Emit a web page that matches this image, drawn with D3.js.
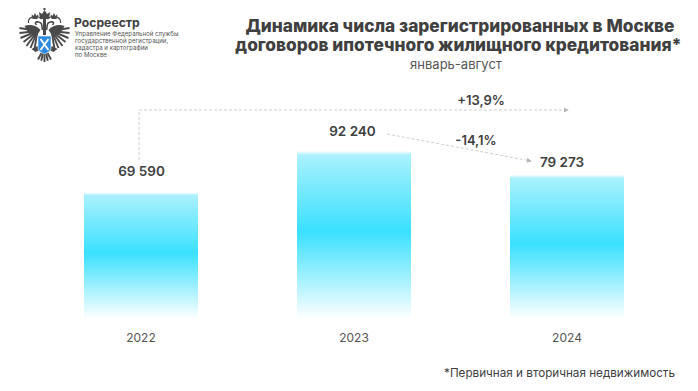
<!DOCTYPE html>
<html>
<head>
<meta charset="utf-8">
<script src="https://cdn.jsdelivr.net/npm/d3@7"></script>
<style>
  html, body { margin: 0; padding: 0; background: #fff; }
  text { font-family: Inter, "Noto Sans", sans-serif; }
</style>
</head>
<body>
<div id="chart"></div>
<script>
// Chart data
const years = ["2022", "2023", "2024"];
const values = [69590, 92240, 79273];
const valueLabels = ["69 590", "92 240", "79 273"];
const titleLines = ["Динамика числа зарегистрированных в Москве", "договоров ипотечного жилищного кредитования*"];
const orgLines = ["Управление Федеральной службы", "государственной регистрации,", "кадастра и картографии", "по Москве"];

const width = 698;
const height = 391;
const textColor = "#404040";
const dashColor = "#cfcfcf";

const svg = d3.select("#chart")
    .append("svg")
    .attr("viewBox", [0, 0, width, height])
    .attr("width", width)
    .attr("height", height)
    .style("display", "block");

const defs = svg.append("defs");

// Bars fade to white at both ends
const gradient = defs.append("linearGradient")
    .attr("id", "barGradient")
    .attr("x1", "0%").attr("x2", "0%")
    .attr("y1", "0%").attr("y2", "100%");
gradient.selectAll("stop")
    .data([
        {o: "0%", c: "#ffffff"},
        {o: "2.5%", c: "#aaf1fd"},
        {o: "48%", c: "#3ae0ff"},
        {o: "100%", c: "#ffffff"}
    ])
    .join("stop")
    .attr("offset", d => d.o)
    .attr("stop-color", d => d.c);

const arrow = defs.append("marker")
    .attr("id", "arrow")
    .attr("viewBox", "0 0 6 6")
    .attr("refX", 5).attr("refY", 3)
    .attr("markerWidth", 5).attr("markerHeight", 5)
    .attr("markerUnits", "userSpaceOnUse")
    .attr("orient", "auto");
arrow.append("path").attr("d", "M0,0L6,3L0,6Z").attr("fill", "#b5b5b5");

defs.append("filter")
    .attr("id", "soft")
    .append("feGaussianBlur")
    .attr("stdDeviation", 0.35);

// Scales
const x = d3.scaleBand(years, [84, 624]).paddingInner(0.4648).paddingOuter(0);
const y = d3.scaleLinear([0, 92240], [319, 151]);

// Bars
svg.append("g")
    .selectAll("rect")
    .data(values)
    .join("rect")
    .attr("x", (d, i) => x(years[i]))
    .attr("y", d => y(d))
    .attr("width", x.bandwidth())
    .attr("height", d => y(0) - y(d))
    .attr("fill", "url(#barGradient)");

// Year axis, without domain and ticks
svg.append("g")
    .attr("transform", "translate(0,333)")
    .call(d3.axisBottom(x).tickSize(0).tickPadding(0))
    .call(g => g.select(".domain").remove())
    .call(g => g.selectAll("text")
        .attr("font-family", "Inter")
        .attr("font-size", 12)
        .attr("fill", "#555"));

// Value labels
const labelShiftX = [0.5, -1.5, -5];
const labelShiftY = [-16, -15, -8];
svg.append("g")
    .selectAll("text")
    .data(values)
    .join("text")
    .attr("x", (d, i) => x(years[i]) + x.bandwidth() / 2 + labelShiftX[i])
    .attr("y", (d, i) => y(d) + labelShiftY[i])
    .attr("text-anchor", "middle")
    .attr("font-size", 13.5)
    .attr("font-weight", 600)
    .attr("fill", textColor)
    .text((d, i) => valueLabels[i]);

// Change arrows
const dashed = g => g.attr("fill", "none")
    .attr("stroke", dashColor)
    .attr("stroke-width", 1)
    .attr("stroke-dasharray", "3 2");
svg.append("path")
    .attr("d", "M139,160V110H568")
    .call(dashed)
    .attr("marker-end", "url(#arrow)");
svg.append("path")
    .attr("d", "M387,134L531,161")
    .call(dashed)
    .attr("marker-end", "url(#arrow)");

svg.selectAll(".change")
    .data([{t: "+13,9%", x: 481, y: 105}, {t: "-14,1%", x: 476, y: 145}])
    .join("text")
    .attr("class", "change")
    .attr("x", d => d.x)
    .attr("y", d => d.y)
    .attr("text-anchor", "middle")
    .attr("font-size", 13)
    .attr("font-weight", 600)
    .attr("fill", textColor)
    .text(d => d.t);

// Title block
svg.append("g")
    .selectAll("text")
    .data(titleLines)
    .join("text")
    .attr("x", (d, i) => [460, 458.5][i])
    .attr("y", (d, i) => 32 + i * 18.5)
    .attr("text-anchor", "middle")
    .attr("font-size", 17.3)
    .attr("font-weight", 800)
    .attr("fill", textColor)
    .text(d => d);

svg.append("text")
    .attr("x", 456)
    .attr("y", 69)
    .attr("text-anchor", "middle")
    .attr("font-size", 13)
    .attr("fill", "#555")
    .text("январь-август");

svg.append("text")
    .attr("x", 675)
    .attr("y", 377)
    .attr("text-anchor", "end")
    .attr("font-size", 11.7)
    .attr("fill", textColor)
    .text("*Первичная и вторичная недвижимость");

// Organisation name
svg.append("text")
    .attr("x", 74)
    .attr("y", 27)
    .attr("font-size", 12.2)
    .attr("font-weight", 700)
    .attr("fill", textColor)
    .text("Росреестр");
svg.append("g")
    .selectAll("text")
    .data(orgLines)
    .join("text")
    .attr("x", 75)
    .attr("y", (d, i) => 36 + i * 7)
    .attr("font-size", 6.1)
    .attr("fill", "#555")
    .text(d => d);

// Emblem, a simplified double-headed eagle
const emblemColor = "#4a4a4a";
const emblem = svg.append("g")
    .attr("transform", "translate(44.5,38)")
    .attr("filter", "url(#soft)");
const featherTips = [[25, -10], [25, -5], [24, 0], [21, 4], [18, 8], [14, 10], [10, 11]];

[-1, 1].forEach(side => {
    const wing = emblem.append("g").attr("transform", `scale(${side},1)`);
    // feathers
    wing.selectAll("line")
        .data(featherTips)
        .join("line")
        .attr("x1", 7).attr("y1", -7)
        .attr("x2", d => d[0]).attr("y2", d => d[1])
        .attr("stroke", emblemColor)
        .attr("stroke-width", 1.9);
    // shoulder
    wing.append("path")
        .attr("d", "M4,-8C8,-13 15,-14 20,-12L16,-5L8,-2Z")
        .attr("fill", emblemColor);
    // neck and head curl
    wing.append("path")
        .attr("d", "M2,-8C3,-13 2,-15 6,-16C9,-16.5 10,-15 8,-13")
        .attr("fill", "none")
        .attr("stroke", emblemColor)
        .attr("stroke-width", 1.6);
    wing.append("path")
        .attr("d", "M3,-19C8,-24 17,-21 16,-15")
        .attr("fill", "none")
        .attr("stroke", emblemColor)
        .attr("stroke-width", 1.2);
    // small crown
    wing.append("path")
        .attr("d", "M6,-24L7,-19H12L13,-24L11,-22L9.5,-25L8,-22Z")
        .attr("fill", emblemColor);
    // legs
    wing.append("path")
        .attr("d", "M7,8L13,11L9,14L5,12Z")
        .attr("fill", emblemColor);
});

// big crown
emblem.append("path")
    .attr("d", "M-4.5,-19L-5.5,-26L-2.5,-24L0,-28L2.5,-24L5.5,-26L4.5,-19Z")
    .attr("fill", emblemColor);
emblem.append("path")
    .attr("d", "M-1,-30H1V-28H-1Z")
    .attr("fill", emblemColor);
emblem.append("path")
    .attr("d", "M-1.5,-19H1.5V-3H-1.5Z")
    .attr("fill", emblemColor);

// tail
emblem.selectAll(".tail")
    .data([-5, -2.5, 0, 2.5, 5])
    .join("line")
    .attr("class", "tail")
    .attr("x1", d => d * 0.6).attr("y1", 15)
    .attr("x2", d => d * 1.3).attr("y2", d => 24 - Math.abs(d) * 0.5)
    .attr("stroke", emblemColor)
    .attr("stroke-width", 1.9);

// shield
emblem.append("path")
    .attr("d", "M-6.5,-2H6.5V10C6.5,13 3,15 0,16C-3,15 -6.5,13 -6.5,10Z")
    .attr("fill", "#2e8be0")
    .attr("stroke", "#fff")
    .attr("stroke-width", 0.6);
emblem.append("path")
    .attr("d", "M-4,1L4,12M4,1L-4,12")
    .attr("stroke", "#fff")
    .attr("stroke-width", 1.8);
</script>
</body>
</html>
